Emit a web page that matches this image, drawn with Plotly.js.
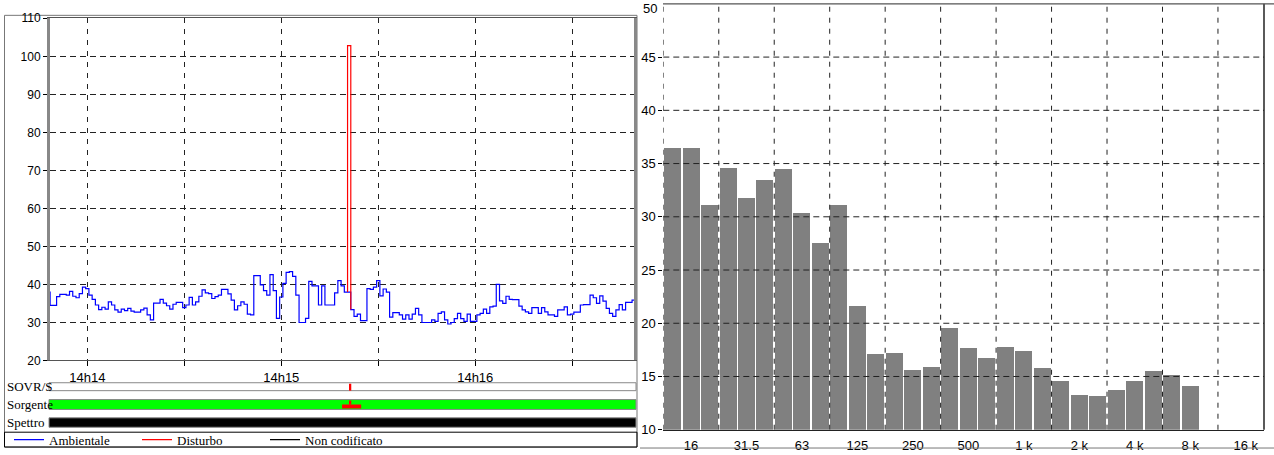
<!DOCTYPE html>
<html><head><meta charset="utf-8">
<script src="https://cdn.plot.ly/plotly-3.0.1.min.js"></script>
<style>html,body{margin:0;padding:0;background:#fff;}#chart{width:1274px;height:455px;}</style>
</head><body><div id="chart"></div>
<script>
// ---------- Left panel: time history (1 s samples, seconds relative to 14:14:00) ----------
const startOffsetSec = -12.5;
const ambientale = [
 38.0, 34.5, 34.5, 36.8, 37.4, 37.4, 37.2, 38.2, 36.9, 36.5, 37.6, 39.3,
 38.9, 37.2, 36.1, 34.6, 33.4, 34.0, 33.5, 35.4, 34.6, 33.3,
 32.7, 33.5, 33.1, 33.7, 33.0, 32.7, 32.7, 33.3, 33.8, 32.0,
 30.7, 35.1, 35.1, 36.1, 35.1, 34.4, 33.5, 34.8, 35.3, 35.3,
 33.9, 34.6, 36.6, 34.6, 35.4, 36.9, 38.6, 37.8, 37.6, 36.3,
 36.8, 37.2, 38.7, 38.7, 37.5, 35.9, 33.3, 34.4, 35.4, 34.8,
 32.2, 32.0, 42.3, 42.3, 39.9, 38.4, 37.2, 42.6, 38.4, 31.1,
 36.7, 40.3, 43.2, 43.4, 42.1, 37.2, 30.0, 30.0, 31.1, 40.8,
 39.6, 39.6, 34.6, 39.6, 34.6, 34.6, 34.6, 37.8, 41.0, 39.6,
 38.0, 38.0, 33.4, 31.6, 32.2, 30.5, 30.5, 38.9, 38.7, 39.3,
 41.0, 37.0, 38.8, 38.0, 31.4, 32.6, 32.6, 32.0, 30.9, 32.0,
 30.9, 32.2, 33.7, 32.0, 30.0, 30.0, 30.0, 30.7, 30.3, 32.4,
 32.8, 30.7, 29.6, 30.0, 31.0, 32.4, 31.0, 30.3, 32.2, 30.3,
 30.3, 32.0, 32.4, 33.5, 32.4, 34.1, 34.3, 40.0, 35.7, 35.0,
 36.9, 36.1, 36.0, 36.0, 34.3, 33.3, 32.8, 32.4, 33.9, 33.9,
 32.4, 33.9, 32.8, 32.0, 32.0, 31.6, 33.3, 33.3, 34.1, 32.0,
 32.2, 32.7, 32.7, 34.6, 34.7, 34.7, 37.2, 36.5, 35.0, 37.0,
 35.6, 33.7, 32.4, 31.6, 33.3, 34.7, 33.3, 35.3, 35.3, 35.9,
 35.9
];
const disturboTimes = [80.5, 80.5, 81.5];
const disturboValues = [38.0, 102.8, 33.4];
const timeTickVals = [0, 30, 60, 90, 120, 150];
const timeTickText = ['14h14', '', '14h15', '', '14h16', ''];
const leftYTicks = [20, 30, 40, 50, 60, 70, 80, 90, 100, 110];
const stripLabels = ['SOVR/S', 'Sorgente', 'Spettro'];

// ---------- Right panel: 1/3 octave spectrum ----------
const bands = ['12.5','16','20','25','31.5','40','50','63','80','100','125','160','200','250','315','400','500','630','800',
  '1 k','1.25 k','1.6 k','2 k','2.5 k','3.15 k','4 k','5 k','6.3 k','8 k','10 k','12.5 k','16 k','20 k'];
const spectrum = [36.5, 36.5, 31.1, 34.6, 31.8, 33.5, 34.5, 30.4, 27.5, 31.1, 21.6, 17.1, 17.2, 15.6, 15.9, 19.6, 17.7, 16.7, 17.8,
  17.4, 15.8, 14.6, 13.3, 13.2, 13.7, 14.6, 15.5, 15.1, 14.1, null, null, null, null];
const octaveLabels = ['16','31.5','63','125','250','500','1 k','2 k','4 k','8 k','16 k'];
const rightYTicks = [10, 15, 20, 25, 30, 35, 40, 45, 50];

// ---------- geometry helpers (pixels -> paper) ----------
const W = 1274, H = 455;
const P = x => x / W, Q = y => 1 - y / H;
const secPerPx = 1 / 3.233, t0px = 87.3;
const tOf = x => (x - t0px) * secPerPx;

const ambTimes = ambientale.map((_, i) => startOffsetSec + i);
const bandIdx = bands.map((_, i) => i);
const octIdx = octaveLabels.map(l => bands.indexOf(l));
const rightYMax = rightYTicks[rightYTicks.length - 1];

const serif = 'Liberation Serif, Times New Roman, serif';
const sans = 'Liberation Sans, Arial, sans-serif';

const traces = [
  {x: ambTimes, y: ambientale, name: 'Ambientale', type: 'scatter', mode: 'lines',
   line: {color: '#0000ff', width: 1.2, shape: 'hv'}, xaxis: 'x', yaxis: 'y', hoverinfo: 'skip'},
  {x: disturboTimes, y: disturboValues, name: 'Disturbo', type: 'scatter', mode: 'lines',
   line: {color: '#ff0000', width: 1.2, shape: 'hv'}, xaxis: 'x', yaxis: 'y', hoverinfo: 'skip'},
  {x: [null], y: [null], name: 'Non codificato', type: 'scatter', mode: 'lines',
   line: {color: '#000000', width: 1.2}, xaxis: 'x', yaxis: 'y', hoverinfo: 'skip'},
  {x: bandIdx, y: spectrum, type: 'bar', marker: {color: '#808080', line: {width: 0}}, width: 0.92,
   xaxis: 'x2', yaxis: 'y2', showlegend: false, hoverinfo: 'skip'}
];

const shapes = [];
// left outer frame and legend box
shapes.push({type: 'rect', xref: 'paper', yref: 'paper', x0: P(4.5), x1: P(637), y0: Q(452), y1: Q(15.5),
  line: {color: '#777', width: 1}, fillcolor: 'rgba(0,0,0,0)', layer: 'below'});
shapes.push({type: 'rect', xref: 'paper', yref: 'paper', x0: P(4.5), x1: P(637), y0: Q(452), y1: Q(437),
  line: {color: '#000', width: 1}, fillcolor: 'rgba(0,0,0,0)'});
// strips
shapes.push({type: 'rect', xref: 'paper', yref: 'paper', x0: P(49), x1: P(636), y0: Q(395), y1: Q(387),
  line: {color: '#888', width: 1}, fillcolor: '#ffffff'});
shapes.push({type: 'rect', xref: 'paper', yref: 'paper', x0: P(49), x1: P(636), y0: Q(414), y1: Q(404),
  line: {color: '#888', width: 1}, fillcolor: '#00ff00'});
shapes.push({type: 'rect', xref: 'paper', yref: 'paper', x0: P(49), x1: P(636), y0: Q(432), y1: Q(422.5),
  line: {color: '#888', width: 1}, fillcolor: '#000000'});
const distC = (disturboTimes[0] + disturboTimes[disturboTimes.length - 1]) / 2 + 0.3;
shapes.push({type: 'rect', xref: 'x', yref: 'paper', x0: distC - 0.35, x1: distC + 0.35, y0: Q(395), y1: Q(388),
  line: {width: 0}, fillcolor: '#ff0000'});
shapes.push({type: 'rect', xref: 'x', yref: 'paper', x0: distC - 0.35, x1: distC + 0.35, y0: Q(409), y1: Q(405),
  line: {width: 0}, fillcolor: '#ff0000'});
shapes.push({type: 'rect', xref: 'x', yref: 'paper', x0: distC - 2.5, x1: distC + 3.4, y0: Q(413), y1: Q(409),
  line: {width: 0}, fillcolor: '#ff0000'});
// right panel grid above bars
rightYTicks.filter(v => v > 10 && v < 50).forEach(v => shapes.push({type: 'line', xref: 'x2 domain', yref: 'y2',
  x0: 0, x1: 1, y0: v, y1: v, line: {color: '#222', width: 1, dash: '6px,4px'}, layer: 'above'}));
octIdx.forEach(i => shapes.push({type: 'line', xref: 'x2', yref: 'y2 domain', x0: i - 1.5, x1: i - 1.5, y0: 0, y1: 1,
  line: {color: '#222', width: 1, dash: '5px,6px'}, layer: 'above'}));
// right panel borders
shapes.push({type: 'line', xref: 'x2 domain', yref: 'y2 domain', x0: 1, x1: 1, y0: 0, y1: 1,
  line: {color: '#000', width: 1.3}, layer: 'above'});
shapes.push({type: 'line', xref: 'paper', yref: 'y2 domain', x0: P(663), x1: P(1274), y0: 1, y1: 1,
  line: {color: '#555', width: 1.3}, layer: 'above'});
shapes.push({type: 'line', xref: 'paper', yref: 'paper', x0: P(640), x1: P(1274), y0: Q(453), y1: Q(453),
  line: {color: '#777', width: 1}});

const annotations = [390.5, 408.5, 427].map((yy, k) => ({
  text: stripLabels[k], xref: 'paper', yref: 'paper', x: P(5), y: Q(yy), xanchor: 'left', yanchor: 'middle',
  showarrow: false, font: {family: serif, size: 13, color: '#000'}
}));
// top tick label of the spectrum axis, kept inside the picture
annotations.push({text: String(rightYMax), xref: 'paper', yref: 'y2', x: P(659), y: rightYMax, yshift: -5,
  xanchor: 'right', yanchor: 'middle', showarrow: false, font: {family: sans, size: 13, color: '#000'}});

const layout = {
  width: W, height: H, margin: {l: 0, r: 0, t: 0, b: 0},
  paper_bgcolor: '#ffffff', plot_bgcolor: 'rgba(0,0,0,0)',
  showlegend: true,
  legend: {orientation: 'h', x: P(9), y: Q(444.5), xanchor: 'left', yanchor: 'middle',
    font: {family: serif, size: 13, color: '#000'}, entrywidth: 83, entrywidthmode: 'pixels',
    bgcolor: 'rgba(0,0,0,0)', borderwidth: 0, itemclick: false, itemdoubleclick: false},
  xaxis: {domain: [P(50), P(634)], range: [tOf(50), tOf(634)], tickmode: 'array', tickvals: timeTickVals,
    ticktext: timeTickText, ticks: 'outside', ticklen: 5, tickcolor: '#000', showgrid: true, gridcolor: '#222',
    griddash: '5px,6px', gridwidth: 1, showline: true, linecolor: '#555', linewidth: 1, mirror: true,
    zeroline: false, tickfont: {family: sans, size: 13, color: '#000'}, anchor: 'y', fixedrange: true},
  yaxis: {domain: [Q(364.5), Q(18.5)], range: [20, 110], tickmode: 'array', tickvals: leftYTicks,
    ticks: 'outside', ticklen: 4, tickcolor: '#000', showgrid: true, gridcolor: '#222', griddash: '6px,4px',
    showline: true, linecolor: '#888', linewidth: 3, mirror: true, zeroline: false,
    tickfont: {family: sans, size: 12, color: '#000'}, anchor: 'x', fixedrange: true},
  xaxis2: {domain: [P(663.3), P(1264)], range: [-0.5, 31.99], tickmode: 'array', tickvals: octIdx,
    ticktext: octaveLabels, ticks: '', showgrid: false, showline: true, linecolor: '#222', linewidth: 1,
    mirror: false, zeroline: false, tickfont: {family: sans, size: 13, color: '#000'}, ticklabelstandoff: 4,
    anchor: 'y2', fixedrange: true},
  yaxis2: {domain: [Q(434.5), Q(3.9)], range: [10, 50], tickmode: 'array', tickvals: rightYTicks.slice(0, -1),
    ticks: 'outside', ticklen: 4, tickcolor: '#000', showgrid: false, showline: false, zeroline: false,
    tickfont: {family: sans, size: 13, color: '#000'}, anchor: 'x2', fixedrange: true},
  yaxis3: {overlaying: 'y2', side: 'right', anchor: 'x2', range: [10, 50], tickmode: 'array', tickvals: rightYTicks,
    ticks: 'outside', ticklen: 5, tickcolor: '#000', showticklabels: false, showgrid: false, showline: false,
    zeroline: false, fixedrange: true},
  bargap: 0,
  shapes: shapes, annotations: annotations
};

Plotly.newPlot('chart', traces, layout, {staticPlot: true, displayModeBar: false});
</script></body></html>
